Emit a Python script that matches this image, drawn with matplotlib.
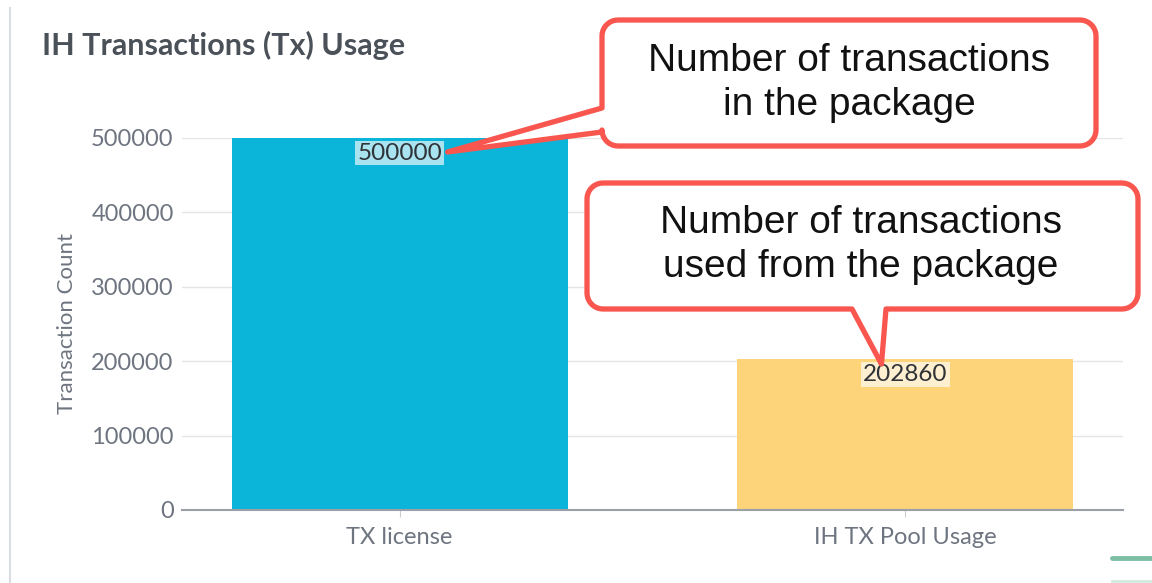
import numpy as np
import matplotlib.pyplot as plt
from matplotlib.path import Path
from matplotlib.patches import PathPatch
from matplotlib.transforms import Affine2D

# data
categories = ["TX license", "IH TX Pool Usage"]
counts = [500000, 202860]
bar_colors = ["#0bb5da", "#fdd47a"]
label_bg = ["#a9e3ef", "#fdefcf"]
yticks = [0, 100000, 200000, 300000, 400000, 500000]

W, H = 1152, 583
fig = plt.figure(figsize=(W / 100, H / 100), dpi=100)
fig.patch.set_facecolor("white")
plt.rcParams["font.family"] = ["Lato", "DejaVu Sans"]

# pixel coords measured from the top-left corner
px = Affine2D().scale(1 / W, -1 / H).translate(0, 1) + fig.transFigure

ax = fig.add_axes([182 / W, (H - 510) / H, 941 / W, 372 / H])
ax.bar(range(len(counts)), counts, width=0.664, color=bar_colors, zorder=2)
ax.set_xlim(-0.43, 1.43)
ax.set_ylim(0, 500000)
ax.set_yticks(yticks)
ax.set_yticklabels([str(v) for v in yticks])
ax.set_xticks(range(len(categories)))
ax.set_xticklabels(categories)
ax.grid(axis="y", color="#e3e5e9", linewidth=1, zorder=0)
for s in ["top", "right", "left"]:
    ax.spines[s].set_visible(False)
ax.spines["bottom"].set_color("#9aa0a8")
ax.spines["bottom"].set_linewidth(1.5)
ax.tick_params(axis="y", length=0, pad=6, labelsize=17, labelcolor="#6e7580")
ax.tick_params(axis="x", length=5, color="#c9ccd2", pad=7, labelsize=17,
               labelcolor="#6e7580")
ax.set_ylabel("Transaction Count", fontsize=16, color="#6e7580", labelpad=10)

# value labels
for i, v in enumerate(counts):
    ax.annotate(str(v), (i, v), xytext=(0, -15), textcoords="offset pixels",
                ha="center", va="center", fontsize=17.5, color="#2f3338",
                bbox=dict(boxstyle="square,pad=0.08", fc=label_bg[i], ec="none"),
                zorder=3, annotation_clip=False)

fig.text(42 / W, 1 - 45 / H, "IH Transactions (Tx) Usage", fontsize=22,
         fontweight="bold", color="#4b5159", va="center")

# left panel border and bottom-right scrollbar bits
fig.add_artist(plt.Line2D([10, 10], [8, H], transform=px, color="#d9dce1", lw=1.5))
fig.add_artist(plt.Line2D([1112, W], [558, 558], transform=px, color="#7dbfa5",
                          lw=3.5, solid_capstyle="round"))
fig.add_artist(plt.Line2D([1112, W], [581, 581], transform=px, color="#d3eae0", lw=2))


def arc(cx, cy, r, a0, a1, n=10):
    t = np.radians(np.linspace(a0, a1, n))
    return list(zip(cx + r * np.cos(t), cy + r * np.sin(t)))


def callout(x0, y0, x1, y1, r, side, base, tip):
    # rounded box in top-origin pixels with a wedge on the left or bottom edge
    pts = []
    pts += arc(x0 + r, y0 + r, r, 180, 270)
    pts += arc(x1 - r, y0 + r, r, 270, 360)
    pts += arc(x1 - r, y1 - r, r, 0, 90)
    if side == "bottom":
        pts += [(base[1], y1), tip, (base[0], y1)]
    pts += arc(x0 + r, y1 - r, r, 90, 180)
    if side == "left":
        pts += [(x0, base[1]), tip, (x0, base[0])]
    pts.append(pts[0])
    codes = [Path.MOVETO] + [Path.LINETO] * (len(pts) - 2) + [Path.CLOSEPOLY]
    patch = PathPatch(Path(pts, codes), transform=px, fc="white", ec="#f8564e",
                      lw=3.8, joinstyle="round", zorder=5)
    fig.add_artist(patch)


def to_px(i, v):
    x, y = ax.transData.transform((i, v))
    return x, H - y


t1x, t1y = to_px(0, counts[0])
t2x, t2y = to_px(1, counts[1])
callout(602, 20, 1096, 146, 16, "left", (108, 132), (t1x + 48, t1y + 14))
callout(587, 183, 1138, 309, 16, "bottom", (852, 886), (t2x - 24, t2y + 5))

box_text = dict(family=["Liberation Sans", "DejaVu Sans"], fontsize=28,
                color="#111111", ha="center", va="center", zorder=6,
                linespacing=1.27)
fig.text(849 / W, 1 - 83 / H, "Number of transactions\nin the package",
         **box_text)
fig.text(861 / W, 1 - 245 / H, "Number of transactions\nused from the package",
         **box_text)

fig.savefig("out.png", dpi=100)
